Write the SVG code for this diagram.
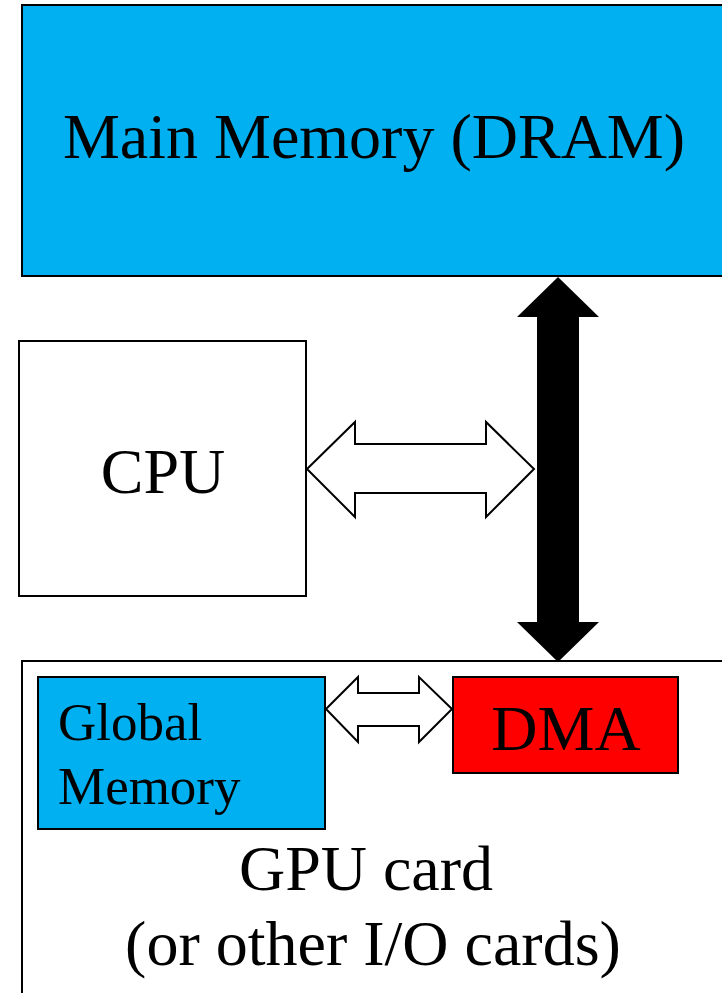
<svg xmlns="http://www.w3.org/2000/svg" width="722" height="993" viewBox="0 0 722 993">
<style>
.t{font-family:"Liberation Serif","Times New Roman",serif;fill:#000}
.box{stroke:#000;stroke-width:2}
.arr{stroke:#000;stroke-width:2;stroke-linejoin:miter}
</style>
<rect width="722" height="993" fill="#fff"/>
<g id="main-memory">
<rect class="box" x="22" y="5" width="710" height="271" fill="#00B0F0"/>
<text class="t" x="374" y="158" font-size="64" text-anchor="middle">Main Memory (DRAM)</text>
</g>
<g id="cpu">
<rect class="box" x="19" y="341" width="287" height="255" fill="#fff"/>
<text class="t" x="163" y="493" font-size="64" text-anchor="middle">CPU</text>
</g>
<g id="gpu-card">
<rect class="box" x="22" y="661" width="710" height="340" fill="#fff"/>
<text class="t" x="366" y="890" font-size="64" text-anchor="middle">GPU card</text>
<text class="t" x="373" y="965" font-size="64" text-anchor="middle">(or other I/O cards)</text>
</g>
<g id="global-memory">
<rect class="box" x="38" y="677" width="287" height="152" fill="#00B0F0"/>
<text class="t" x="58" y="740" font-size="53">Global</text>
<text class="t" x="58" y="804" font-size="53">Memory</text>
</g>
<g id="dma">
<rect class="box" x="453" y="677" width="225" height="96" fill="#FF0000"/>
<text class="t" x="566" y="750" font-size="64" text-anchor="middle">DMA</text>
</g>
<g id="connectors">
<polygon fill="#000" points="558,277 599,317 579,317 579,622 599,622 558,662 517,622 537,622 537,317 517,317"/>
<polygon class="arr" fill="#fff" points="307,469 355,422 355,444 486,444 486,422 534,469 486,517 486,493 355,493 355,517"/>
<polygon class="arr" fill="#fff" points="326,709 358,677 358,693 419,693 419,677 452,709 419,742 419,726 358,726 358,742"/>
</g>
</svg>
